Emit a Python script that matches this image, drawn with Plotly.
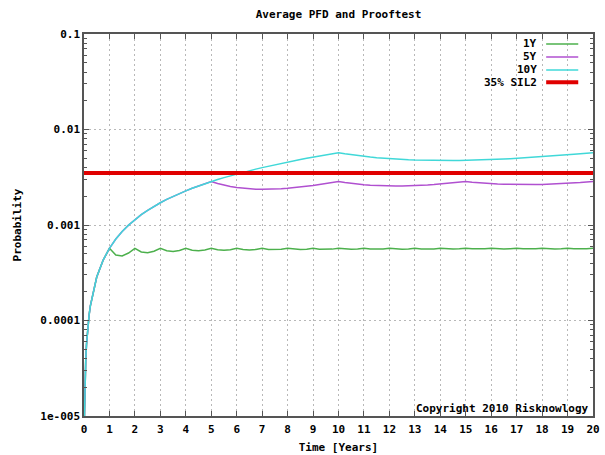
import plotly.graph_objects as go

# Time axis (years)
time_years = [0.0175, 0.025, 0.035, 0.05, 0.07, 0.1, 0.15, 0.2,
              0.25, 0.5, 0.75, 1.0, 1.25, 1.5, 1.75, 2.0, 2.25, 2.5, 2.75, 3.0,
              3.25, 3.5, 3.75, 4.0, 4.25, 4.5, 4.75, 5.0, 5.25, 5.5, 5.75, 6.0,
              6.25, 6.5, 6.75, 7.0, 7.25, 7.5, 7.75, 8.0, 8.25, 8.5, 8.75, 9.0,
              9.25, 9.5, 9.75, 10.0, 10.25, 10.5, 10.75, 11.0, 11.25, 11.5, 11.75, 12.0,
              12.25, 12.5, 12.75, 13.0, 13.25, 13.5, 13.75, 14.0, 14.25, 14.5, 14.75, 15.0,
              15.25, 15.5, 15.75, 16.0, 16.25, 16.5, 16.75, 17.0, 17.25, 17.5, 17.75, 18.0,
              18.25, 18.5, 18.75, 19.0, 19.25, 19.5, 19.75, 20.0]

early = [9.975e-6, 1.425e-5, 1.995e-5, 2.85e-5, 3.99e-5, 5.7e-5, 8.55e-5, 1.14e-4,
         1.425e-4, 2.85e-4, 4.275e-4, 5.7e-4]

pfd_1y = early + [
    4.845e-4, 4.75e-4, 5.09e-4, 5.7e-4,
    5.225e-4, 5.13e-4, 5.311e-4, 5.7e-4,
    5.371e-4, 5.293e-4, 5.415e-4, 5.7e-4,
    5.449e-4, 5.383e-4, 5.475e-4, 5.7e-4,
    5.496e-4, 5.441e-4, 5.514e-4, 5.7e-4,
    5.529e-4, 5.481e-4, 5.542e-4, 5.7e-4,
    5.553e-4, 5.51e-4, 5.562e-4, 5.7e-4,
    5.57e-4, 5.532e-4, 5.578e-4, 5.7e-4,
    5.584e-4, 5.55e-4, 5.59e-4, 5.7e-4,
    5.596e-4, 5.564e-4, 5.601e-4, 5.7e-4,
    5.605e-4, 5.576e-4, 5.609e-4, 5.7e-4,
    5.613e-4, 5.586e-4, 5.616e-4, 5.7e-4,
    5.619e-4, 5.594e-4, 5.622e-4, 5.7e-4,
    5.625e-4, 5.602e-4, 5.628e-4, 5.7e-4,
    5.63e-4, 5.608e-4, 5.632e-4, 5.7e-4,
    5.634e-4, 5.614e-4, 5.636e-4, 5.7e-4,
    5.638e-4, 5.619e-4, 5.64e-4, 5.7e-4,
    5.641e-4, 5.623e-4, 5.643e-4, 5.7e-4,
    5.645e-4, 5.627e-4, 5.646e-4, 5.7e-4]

pfd_5y = early + [
    7.125e-4, 8.55e-4, 9.975e-4, 1.14e-3,
    1.2825e-3, 1.425e-3, 1.5675e-3, 1.71e-3,
    1.8525e-3, 1.995e-3, 2.1375e-3, 2.28e-3,
    2.4225e-3, 2.565e-3, 2.7075e-3, 2.85e-3,
    2.721e-3, 2.617e-3, 2.534e-3, 2.47e-3,
    2.4225e-3, 2.39e-3, 2.37e-3, 2.3614e-3,
    2.3635e-3, 2.375e-3, 2.3949e-3, 2.4225e-3,
    2.457e-3, 2.498e-3, 2.5446e-3, 2.5967e-3,
    2.6536e-3, 2.715e-3, 2.7806e-3, 2.85e-3,
    2.784e-3, 2.7279e-3, 2.681e-3, 2.6427e-3,
    2.6125e-3, 2.5898e-3, 2.5741e-3, 2.565e-3,
    2.5621e-3, 2.565e-3, 2.5734e-3, 2.587e-3,
    2.6054e-3, 2.6283e-3, 2.6557e-3, 2.6871e-3,
    2.7225e-3, 2.7616e-3, 2.8041e-3, 2.85e-3,
    2.8056e-3, 2.7673e-3, 2.7346e-3, 2.7075e-3,
    2.6856e-3, 2.6686e-3, 2.6564e-3, 2.6488e-3,
    2.6455e-3, 2.6464e-3, 2.6513e-3, 2.66e-3,
    2.6724e-3, 2.6882e-3, 2.7075e-3, 2.73e-3,
    2.7556e-3, 2.7842e-3, 2.8157e-3, 2.85e-3]

pfd_10y = early + [
    7.125e-4, 8.55e-4, 9.975e-4, 1.14e-3,
    1.2825e-3, 1.425e-3, 1.5675e-3, 1.71e-3,
    1.8525e-3, 1.995e-3, 2.1375e-3, 2.28e-3,
    2.4225e-3, 2.565e-3, 2.7075e-3, 2.85e-3,
    2.9925e-3, 3.135e-3, 3.2775e-3, 3.42e-3,
    3.5625e-3, 3.705e-3, 3.8475e-3, 3.99e-3,
    4.1325e-3, 4.275e-3, 4.4175e-3, 4.56e-3,
    4.7025e-3, 4.845e-3, 4.9875e-3, 5.13e-3,
    5.2725e-3, 5.415e-3, 5.5575e-3, 5.7e-3,
    5.5645e-3, 5.442e-3, 5.3322e-3, 5.2336e-3,
    5.1458e-3, 5.068e-3, 4.9996e-3, 4.94e-3,
    4.8886e-3, 4.845e-3, 4.8087e-3, 4.7792e-3,
    4.7563e-3, 4.7394e-3, 4.7284e-3, 4.7229e-3,
    4.7225e-3, 4.7271e-3, 4.7363e-3, 4.75e-3,
    4.7679e-3, 4.7898e-3, 4.8156e-3, 4.845e-3,
    4.8779e-3, 4.9141e-3, 4.9535e-3, 4.996e-3,
    5.0412e-3, 5.0893e-3, 5.14e-3, 5.1933e-3,
    5.2491e-3, 5.3071e-3, 5.3675e-3, 5.43e-3,
    5.4946e-3, 5.5612e-3, 5.6297e-3, 5.7e-3]

sil2_x = [0, 20]
sil2_y = [0.0035, 0.0035]

series_names = ["1Y", "5Y", "10Y", "35% SIL2"]
series_colors = ["#4cb04c", "#b050d0", "#40d8d8", "#e00000"]

y_tick_vals = [1e-5, 1e-4, 1e-3, 1e-2, 1e-1]
y_tick_text = ["1e-005", "0.0001", "0.001", "0.01", "0.1"]
y_minor_vals = [m * d for d in [1e-5, 1e-4, 1e-3, 1e-2] for m in range(2, 10)]
x_tick_vals = list(range(0, 21))

FONT = "DejaVu Sans Mono"
fs = 11

fig = go.Figure()
for name, ys, col in zip(series_names[:3], [pfd_1y, pfd_5y, pfd_10y], series_colors[:3]):
    fig.add_trace(go.Scatter(x=time_years, y=ys, mode="lines", name=name,
                             line=dict(color=col, width=1.5), showlegend=False))
fig.add_trace(go.Scatter(x=sil2_x, y=sil2_y, mode="lines", name=series_names[3],
                         line=dict(color=series_colors[3], width=4), showlegend=False))

axis_common = dict(
    showline=True, linecolor="#555555", linewidth=1.5, mirror="allticks",
    ticks="inside", tickcolor="#555555", ticklen=5, tickwidth=1,
    showgrid=True, gridcolor="#b8b8b8", griddash="2px,3px", gridwidth=1,
    zeroline=False,
    tickfont=dict(family=FONT, size=fs, color="#000000", weight="bold"),
)

fig.update_xaxes(range=[0, 20], tickvals=x_tick_vals, ticktext=[str(v) for v in x_tick_vals],
                 ticklabelstandoff=2,
                 title=dict(text="Time [Years]", font=dict(family=FONT, size=fs, color="#000", weight="bold"),
                            standoff=8),
                 **axis_common)
fig.update_yaxes(type="log", range=[-5, -1], tickvals=y_tick_vals, ticktext=y_tick_text,
                 minor=dict(tickmode="array", tickvals=y_minor_vals, ticks="inside", ticklen=3,
                            tickcolor="#555555", showgrid=False),
                 title=dict(text="Probability", font=dict(family=FONT, size=fs, color="#000", weight="bold"),
                            standoff=16),
                 **axis_common)

# gnuplot-style legend (text right-aligned, sample to the right)
leg_y = [0.974, 0.940, 0.906, 0.874]
for name, col, yy, w in zip(series_names, series_colors, leg_y, [1.5, 1.5, 1.5, 4]):
    fig.add_annotation(x=0.894, y=yy, xref="paper", yref="paper", text=name, showarrow=False,
                       xanchor="right", yanchor="middle",
                       font=dict(family=FONT, size=fs, color="#000", weight="bold"))
    fig.add_shape(type="line", xref="paper", yref="paper", x0=0.908, x1=0.971, y0=yy, y1=yy,
                  line=dict(color=col, width=w))

fig.add_annotation(x=1, y=0, xref="paper", yref="paper", text="Copyright 2010 Risknowlogy",
                   showarrow=False, xanchor="right", yanchor="bottom", xshift=-2, yshift=-1,
                   font=dict(family=FONT, size=fs, color="#000", weight="bold"))

fig.update_layout(
    width=605, height=455,
    margin=dict(l=84, r=12, t=34, b=39, autoexpand=False),
    paper_bgcolor="white", plot_bgcolor="white",
    title=dict(text="Average PFD and Prooftest", x=0.5, xref="paper", xanchor="center",
               y=1 - 14 / 455, yref="container", yanchor="middle",
               font=dict(family=FONT, size=fs, color="#000", weight="bold")),
    showlegend=False,
)

fig.write_html("out.html", config={"displayModeBar": False},
               post_script="document.body.style.margin='0';")
